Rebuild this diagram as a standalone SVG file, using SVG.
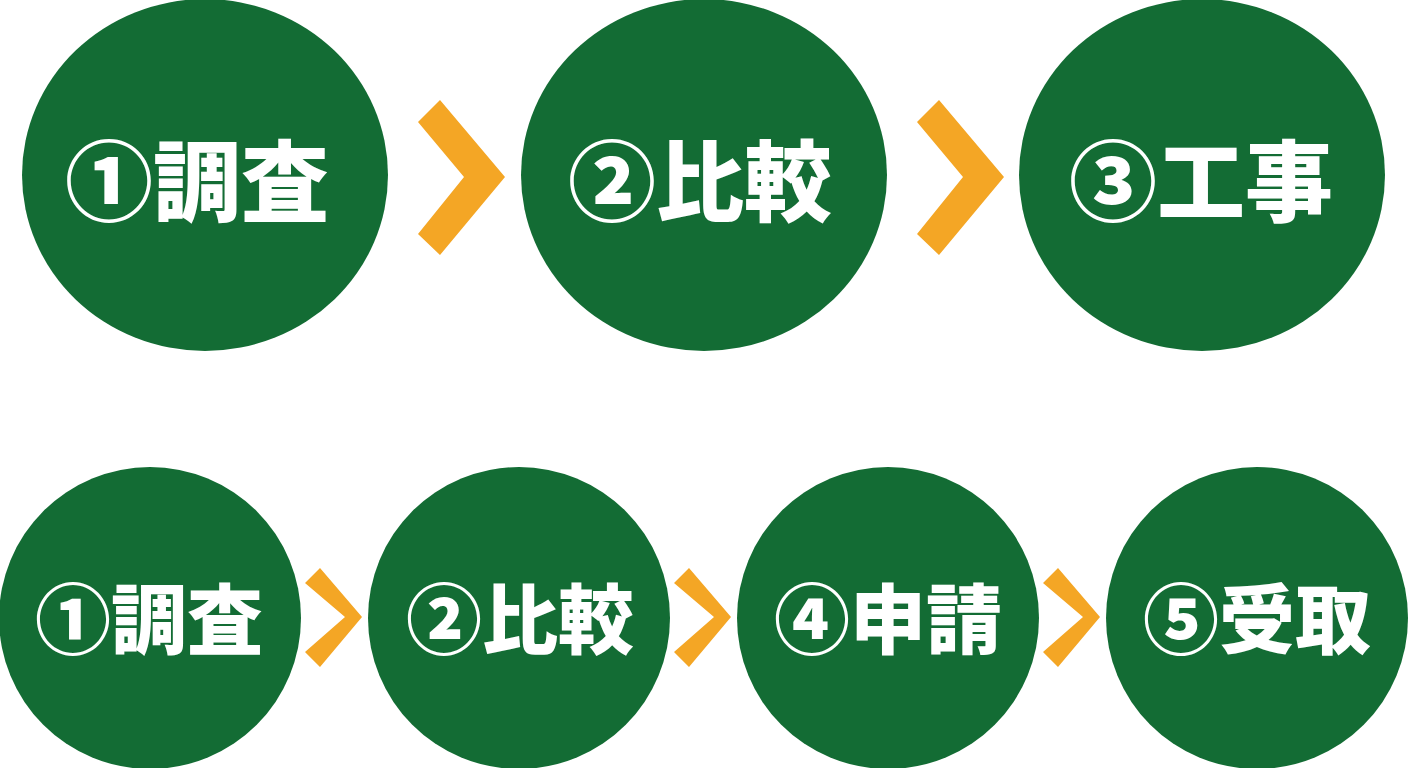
<svg xmlns="http://www.w3.org/2000/svg" width="1408" height="768" viewBox="0 0 1408 768">
<style>
.node{fill:#136c34}
.lbl{fill:#ffffff;font-family:"Noto Sans CJK JP","Noto Sans CJK SC",sans-serif;font-weight:900;text-anchor:middle;dominant-baseline:central}
.big{font-size:88px}
.small{font-size:76px}
.chev{fill:#f4a625}
</style>
<rect width="1408" height="768" fill="#ffffff"/>
<g id="top-1"><ellipse class="node" cx="205" cy="175" rx="183" ry="176"/><text class="lbl big" x="197" y="175">①調査</text></g>
<g id="top-2"><ellipse class="node" cx="704" cy="175" rx="183" ry="176"/><text class="lbl big" x="700" y="175">②比較</text></g>
<g id="top-3"><ellipse class="node" cx="1202" cy="175" rx="183" ry="176"/><text class="lbl big" x="1201" y="175">③工事</text></g>
<g id="bot-1"><circle class="node" cx="150" cy="618" r="151"/><text class="lbl small" x="149" y="615">①調査</text></g>
<g id="bot-2"><circle class="node" cx="519" cy="618" r="151"/><text class="lbl small" x="520" y="615">②比較</text></g>
<g id="bot-3"><circle class="node" cx="888" cy="618" r="151"/><text class="lbl small" x="888" y="615">④申請</text></g>
<g id="bot-4"><circle class="node" cx="1257" cy="618" r="151"/><text class="lbl small" x="1257" y="615">⑤受取</text></g>
<g id="connectors">
<polygon class="chev" points="418,122 440,100 505,177 440,255 418,234 464,177"/>
<polygon class="chev" points="917,122 939,100 1004,177 939,255 917,234 963,177"/>
<polygon class="chev" points="305,583 320,568 362,617 320,667 305,652 345,617"/>
<polygon class="chev" points="674,583 689,568 731,617 689,667 674,652 714,617"/>
<polygon class="chev" points="1043,583 1058,568 1100,617 1058,667 1043,652 1083,617"/>
</g>
</svg>
